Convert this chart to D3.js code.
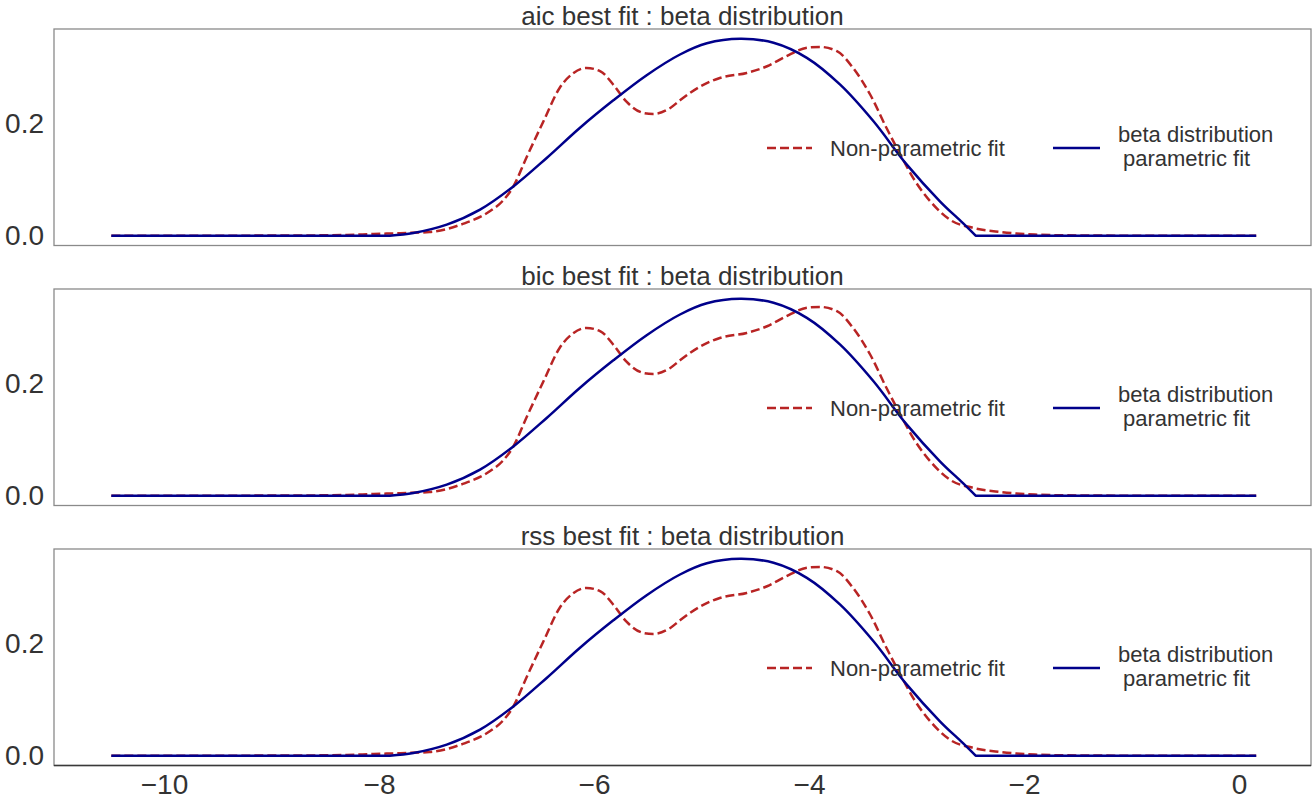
<!DOCTYPE html>
<html>
<head>
<meta charset="utf-8">
<script src="https://cdn.jsdelivr.net/npm/d3@7"></script>
<style>
  html, body { margin: 0; padding: 0; background: #fff; }
  svg { display: block; font-family: "Liberation Sans", Arial, sans-serif; }
</style>
</head>
<body>
<svg id="chart" width="1312" height="799"></svg>
<script>
// ---- data ----
const panelTitles = ["aic best fit : beta distribution", "bic best fit : beta distribution", "rss best fit : beta distribution"];
const xTicks = [-10, -8, -6, -4, -2, 0];
const yTicks = [0.0, 0.2];
const legendLabels = ["Non-parametric fit", "beta distribution\nparametric fit"];

// Non-parametric (KDE) fit
const kdeX = [-10.49, -9.5, -8.6, -8.3, -8.05, -7.8, -7.53, -7.22, -6.97, -6.85, -6.75, -6.63, -6.47, -6.32, -6.19, -6.07, -5.94, -5.82, -5.70, -5.54, -5.45, -5.29, -5.20, -5.01, -4.83, -4.58, -4.39, -4.21, -4.02, -3.90, -3.74, -3.59, -3.43, -3.28, -3.15, -3.03, -2.87, -2.69, -2.47, -2.22, -1.9, -1.5, -1.0, 0.16];
const kdeY = [0.0, 0.0, 0.0005, 0.0012, 0.003, 0.0045, 0.0066, 0.021, 0.0435, 0.062, 0.088, 0.139, 0.2045, 0.264, 0.291, 0.300, 0.294, 0.270, 0.240, 0.2195, 0.2177, 0.2284, 0.242, 0.267, 0.282, 0.291, 0.303, 0.321, 0.336, 0.3376, 0.330, 0.300, 0.252, 0.193, 0.145, 0.103, 0.061, 0.0286, 0.0138, 0.0066, 0.002, 0.0004, 0.0, 0.0];

// Beta distribution parametric fit (support roughly -7.9 .. -2.45, zero outside)
const betaX = [-10.49, -9.0, -7.9, -7.68, -7.37, -7.06, -6.75, -6.44, -6.13, -5.82, -5.51, -5.20, -4.95, -4.64, -4.33, -4.02, -3.71, -3.40, -3.09, -2.78, -2.57, -2.45, -1.5, 0.16];
const betaY = [0.0, 0.0, 0.0, 0.0048, 0.0197, 0.0465, 0.088, 0.139, 0.193, 0.242, 0.287, 0.324, 0.344, 0.352, 0.345, 0.318, 0.270, 0.2045, 0.127, 0.061, 0.0227, 0.0, 0.0, 0.0];
const betaSupport = [-7.9, -2.45];

// ---- layout ----
const svg = d3.select("#chart");
const left = 54, right = 1311;
const panelTop0 = 29, panelH = 216.5, panelStep = 260;
const textColor = "#333333";
const redColor = "#b82424";
const blueColor = "#00008b";

const x = d3.scaleLinear().domain([-10, 0]).range([164, 1239]);

const kde = kdeX.map((v, i) => ({x: v, y: kdeY[i]}));
const beta = betaX.map((v, i) => ({x: v, y: betaY[i]}));
const betaLeft = beta.filter(d => d.x <= betaSupport[0]);
const betaHump = beta.filter(d => d.x >= betaSupport[0] && d.x <= betaSupport[1]);
const betaRight = beta.filter(d => d.x >= betaSupport[1]);

panelTitles.forEach((title, p) => {
  const top = panelTop0 + p * panelStep;
  const bottom = top + panelH;
  const y = d3.scaleLinear().domain([-0.0176, 0.3696]).range([bottom, top]);
  const g = svg.append("g");

  // lines
  const lineKde = d3.line().x(d => x(d.x)).y(d => y(d.y)).curve(d3.curveMonotoneX);
  const lineHump = d3.line().x(d => x(d.x)).y(d => y(d.y)).curve(d3.curveCatmullRom.alpha(0.5));
  const lineFlat = d3.line().x(d => x(d.x)).y(d => y(d.y));
  g.append("path").datum(kde)
    .attr("d", lineKde).attr("fill", "none")
    .attr("stroke", redColor).attr("stroke-width", 2.5)
    .attr("stroke-dasharray", "9,4");
  const bd = lineFlat(betaLeft) + lineHump(betaHump).replace(/^M/, "L") + lineFlat(betaRight).replace(/^M/, "L");
  g.append("path")
    .attr("d", bd).attr("fill", "none")
    .attr("stroke", blueColor).attr("stroke-width", 2.5).attr("stroke-linejoin", "round");

  // frame
  g.append("rect").attr("x", left).attr("y", top)
    .attr("width", right - left).attr("height", panelH)
    .attr("fill", "none").attr("stroke", "#8a8a8a").attr("stroke-width", 1.3);
  if (p === panelTitles.length - 1) {
    g.append("line").attr("x1", left).attr("x2", right).attr("y1", bottom).attr("y2", bottom)
      .attr("stroke", "#3a3a3a").attr("stroke-width", 1.3);
  }

  // y axis
  const yAxis = d3.axisLeft(y).tickValues(yTicks).tickFormat(d3.format(".1f")).tickSize(0).tickPadding(10);
  const ya = g.append("g").attr("transform", `translate(${left},0)`).call(yAxis);
  ya.select(".domain").remove();
  ya.selectAll("text").attr("font-size", 28).attr("fill", textColor)
    .attr("font-family", "'Liberation Sans', Arial, sans-serif");

  // x axis only on last panel
  if (p === panelTitles.length - 1) {
    const xAxis = d3.axisBottom(x).tickValues(xTicks).tickFormat(d3.format("d")).tickSize(0).tickPadding(9);
    const xa = g.append("g").attr("transform", `translate(0,${bottom})`).call(xAxis);
    xa.select(".domain").remove();
    xa.selectAll("text").attr("font-size", 28).attr("fill", textColor)
      .attr("font-family", "'Liberation Sans', Arial, sans-serif");
  }

  // title
  g.append("text").attr("x", (left + right) / 2).attr("y", top - 4)
    .attr("text-anchor", "middle").attr("font-size", 26).attr("fill", textColor)
    .text(title);

  // legend
  const ly = top + 119;
  g.append("line").attr("x1", 767).attr("x2", 812).attr("y1", ly).attr("y2", ly)
    .attr("stroke", redColor).attr("stroke-width", 2.5).attr("stroke-dasharray", "9,4");
  g.append("text").attr("x", 830).attr("y", ly + 8)
    .attr("font-size", 22).attr("fill", textColor).text(legendLabels[0]);
  g.append("line").attr("x1", 1053).attr("x2", 1100).attr("y1", ly).attr("y2", ly)
    .attr("stroke", blueColor).attr("stroke-width", 2.5);
  const lines = legendLabels[1].split("\n");
  g.append("text").attr("x", 1118).attr("y", ly - 6)
    .attr("font-size", 22).attr("fill", textColor).text(lines[0]);
  g.append("text").attr("x", 1123).attr("y", ly + 18)
    .attr("font-size", 22).attr("fill", textColor).text(lines[1]);
});
</script>
</body>
</html>
